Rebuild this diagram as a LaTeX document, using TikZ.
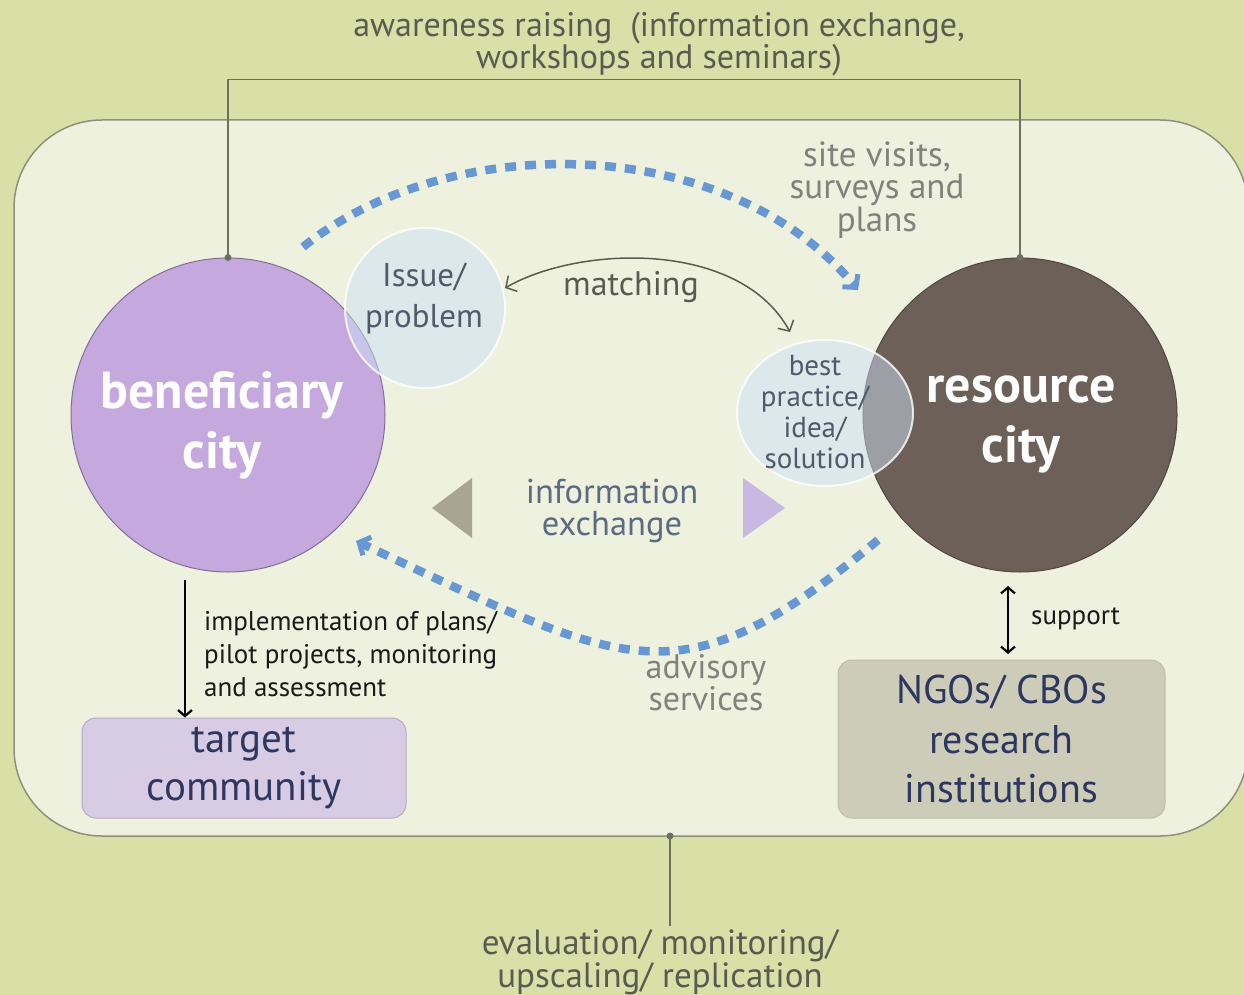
\documentclass[tikz,border=0pt]{standalone}
\usepackage{fontspec}
\setmainfont{PT Sans}
\usetikzlibrary{arrows.meta,shapes.geometric}
\definecolor{bgout}{RGB}{217,224,167}
\definecolor{panel}{RGB}{237,241,222}
\definecolor{panelline}{RGB}{140,146,122}
\definecolor{bene}{RGB}{196,168,222}
\definecolor{beneline}{RGB}{130,110,150}
\definecolor{reso}{RGB}{108,96,88}
\definecolor{resoline}{RGB}{80,70,64}
\definecolor{bubble}{RGB}{204,224,245}
\definecolor{dashblue}{RGB}{104,152,212}
\definecolor{darktxt}{RGB}{88,92,80}
\definecolor{graytxt}{RGB}{128,130,124}
\definecolor{bluetxt}{RGB}{80,90,108}
\definecolor{infotxt}{RGB}{92,106,130}
\definecolor{navy}{RGB}{45,55,95}
\definecolor{triL}{RGB}{168,165,146}
\definecolor{triR}{RGB}{200,184,226}
\definecolor{tgtfill}{RGB}{216,203,228}
\definecolor{tgtline}{RGB}{182,170,198}
\definecolor{ngofill}{RGB}{204,204,184}
\definecolor{ngoline}{RGB}{190,190,170}
\definecolor{bracketcol}{RGB}{108,112,96}
\begin{document}
\begin{tikzpicture}[x=1pt,y=-1pt,
  lbl/.style={inner sep=0pt,align=center},
  dasharc/.style={draw=dashblue,line width=8.5pt,dash pattern=on 11pt off 9pt,
    -{Straight Barb[length=9pt,width=20pt,line width=5pt]}},
  matcharrow/.style={draw=darktxt,line width=1.5pt,
    {Straight Barb[length=8pt,width=18pt]}-{Straight Barb[length=8pt,width=18pt]}},
  blackarrow/.style={draw=black,line width=2.2pt,-{Straight Barb[length=6pt,width=14pt]}},
  bubbleshape/.style={fill=bubble,fill opacity=0.5,draw=white,draw opacity=0.8,line width=2pt},
  citycircle/.style={circle,minimum size=314pt,inner sep=0pt},
  citytext/.style={lbl,text=white,font=\bfseries\fontsize{52}{60}\selectfont},
  infobox/.style={rounded corners=14pt,inner sep=0pt,align=center,text=navy},
  dotmark/.style={fill=bracketcol}
]
\useasboundingbox (0,0) rectangle (1244,995);
\fill[bgout] (0,0) rectangle (1244,995);
% panel
\draw[panelline,fill=panel,line width=1.5pt,rounded corners=88pt] (14,120) rectangle (1248,836);

% title
\node[lbl,text=darktxt,font=\fontsize{34}{32}\selectfont] (title) at (659,44)
  {awareness raising\ \ (information exchange,\\workshops and seminars)};

% cities
\node[citycircle,fill=bene,draw=beneline,line width=1pt] (bene) at (228,415) {};
\node[citycircle,fill=reso,draw=resoline,line width=1pt] (reso) at (1020,415) {};
\node[citytext] (beneT) at (222,425) {beneficiary\\city};
\node[citytext] (resoT) at (1021,424) {resource\\city};

% bracket from top
\draw[bracketcol,line width=1.8pt] (bene.north) -- ++(0,-178) -| (reso.north);
\fill[dotmark] (bene.north) circle (3.5);
\fill[dotmark] (reso.north) circle (3.5);

% bubbles
\node[bubbleshape,circle,minimum size=160pt] (issue) at (425,308) {};
\node[lbl,text=bluetxt,font=\fontsize{33}{41}\selectfont] (issueT) at (424,299) {Issue/\\problem};
\node[bubbleshape,ellipse,minimum width=176pt,minimum height=146pt] (best) at (825,413) {};
\node[lbl,text=bluetxt,font=\fontsize{29}{31}\selectfont] (bestT) at (815,412)
  {best\\practice/\\idea/\\solution};

% matching arrow
\coordinate (m1) at (790,332);
\coordinate (m2) at (505,288);
\draw[matcharrow] (m2) .. controls (580,245) and (740,240) .. (m1);
\node[lbl,text=darktxt,font=\fontsize{34}{32}\selectfont] (matchT) at (631,287) {matching};

% top dashed arc
\coordinate (t1) at (303,247);
\coordinate (t2) at (858,290);
\draw[dasharc] (t1) .. controls (451,128) and (730,134) .. (t2);
\node[lbl,text=graytxt,font=\fontsize{35}{32.5}\selectfont] (siteT) at (877,190)
  {site visits,\\surveys and\\plans};

% bottom dashed arc
\coordinate (b1) at (878,540);
\coordinate (b2) at (356,541);
\draw[dasharc] (b1) .. controls (678,706) and (630,669) .. (b2);
\node[lbl,text=graytxt,font=\fontsize{34}{32}\selectfont] (advT) at (706,683)
  {advisory\\services};

% information exchange
\node[lbl,text=infotxt,font=\fontsize{34.5}{32}\selectfont] (infoT) at (612,511)
  {information\\exchange};
\fill[triL] (472,478) -- (472,538) -- (432,508) -- cycle;
\fill[triR] (743,478) -- (743,538) -- (785,508) -- cycle;

% target community
\node[infobox,fill=tgtfill,draw=tgtline,line width=1pt,minimum width=324pt,minimum height=100pt,
  font=\fontsize{41}{48}\selectfont]
  (target) at (244,768) {target\\community};
\draw[blackarrow] (185,580) -- (target.north -| 185,0);
\node[lbl,align=left,anchor=west,text=black!90,font=\fontsize{27}{33}\selectfont] (implT) at (204,654)
  {implementation of plans/\\pilot projects, monitoring\\and assessment};

% NGOs
\node[infobox,fill=ngofill,draw=ngoline,line width=1pt,minimum width=327pt,minimum height=158pt,
  font=\fontsize{40}{49.5}\selectfont]
  (ngo) at (1001.5,739) {NGOs/ CBOs\\research\\institutions};
\draw[draw=black,line width=2.2pt,{Straight Barb[length=6pt,width=14pt]}-{Straight Barb[length=6pt,width=14pt]}]
  (1008,586) -- (1008,654);
\node[lbl,anchor=west,text=black!90,font=\fontsize{27}{28}\selectfont] (supT) at (1031,619) {support};

% evaluation
\node[lbl,text=darktxt,font=\fontsize{35}{32}\selectfont] (evalT) at (660,962)
  {evaluation/ monitoring/\\upscaling/ replication};
\coordinate (pb) at (670,836);
\draw[bracketcol,line width=1.8pt] (pb) -- (670,926);
\fill[dotmark] (pb) circle (3.5);
\end{tikzpicture}
\end{document}
